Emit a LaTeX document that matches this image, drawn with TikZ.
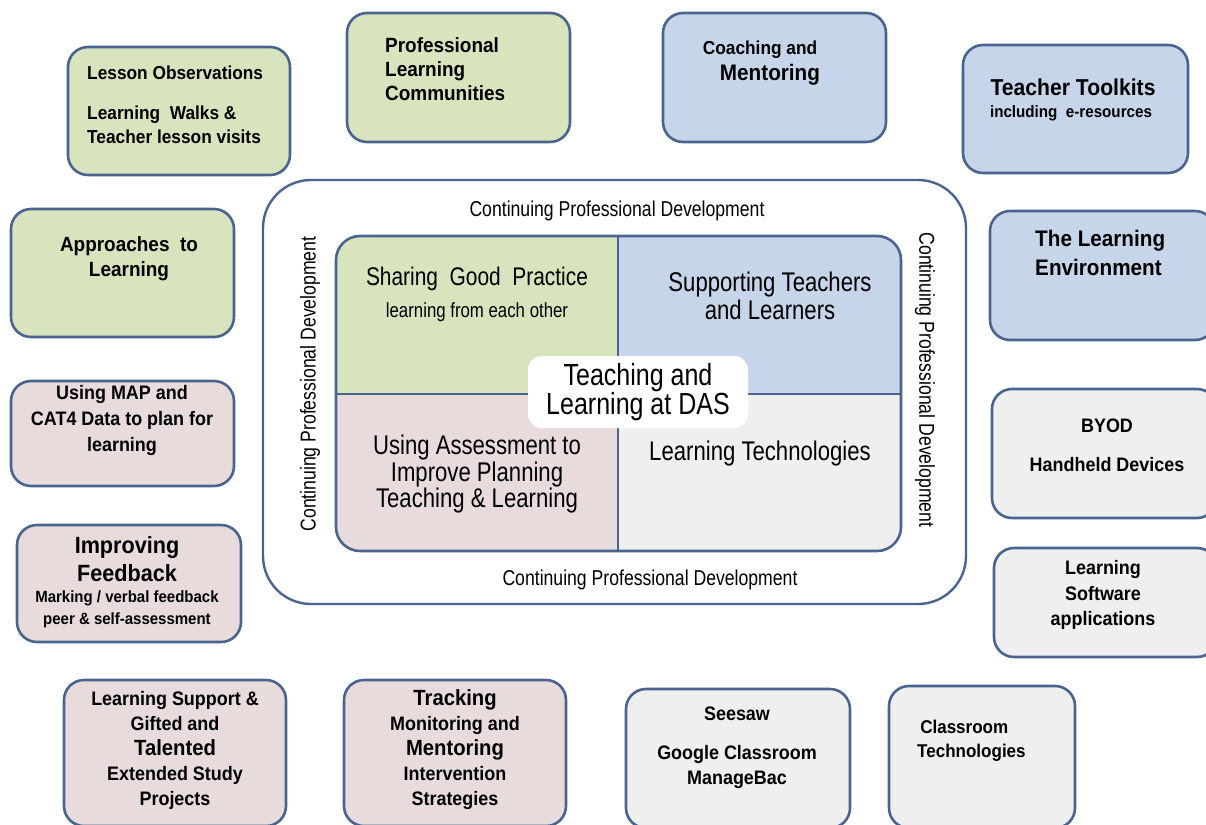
\documentclass[tikz,border=0pt]{standalone}
\usepackage{fontspec}
\setmainfont{Liberation Sans}
\newfontfamily\cardfont[FakeStretch=0.92]{Liberation Sans}
\newfontfamily\midfont[FakeStretch=0.82]{Liberation Sans}
\newcommand{\fsz}[2]{\fontsize{#1}{#2}\selectfont}
\definecolor{bordo}{HTML}{4A6490}
\definecolor{verde}{HTML}{D8E4BD}
\definecolor{azzurro}{HTML}{C7D5EA}
\definecolor{rosa}{HTML}{E8DBDB}
\definecolor{grigio}{HTML}{EFEFEF}

\begin{document}
\begin{tikzpicture}[x=1pt,y=-1pt,
    card/.style={draw=bordo, line width=2.6pt, rounded corners=20pt, inner sep=0pt},
    cardtxt/.style={font=\cardfont\bfseries\fsz{19.5}{25}, align=center, inner sep=0pt},
    midtxt/.style={font=\midfont\fsz{27}{28}, align=center, inner sep=0pt},
    cpd/.style={font=\midfont\fsz{21.5}{24}, inner sep=0pt}]
    \useasboundingbox (0,0) rectangle (1206,824);

     % Riquadri esterni
    \node[card, fill=verde, minimum width=222pt, minimum height=128pt] (lesson) at (179,111) {};
    \node[card, fill=verde, minimum width=223pt, minimum height=129pt] (plc) at (458.5,77.5) {};
    \node[card, fill=azzurro, minimum width=223pt, minimum height=129pt] (coach) at (774.5,77.5) {};
    \node[card, fill=azzurro, minimum width=225pt, minimum height=128pt] (toolkit) at (1075.5,109) {};
    \node[card, fill=verde, minimum width=223pt, minimum height=128pt] (atl) at (122.5,273) {};
    \node[card, fill=azzurro, minimum width=225pt, minimum height=129pt] (environ) at (1102.5,275.5) {};
    \node[card, fill=rosa, minimum width=223pt, minimum height=105pt] (map) at (122.5,433.5) {};
    \node[card, fill=grigio, minimum width=225pt, minimum height=129pt] (byod) at (1104.5,453.5) {};
    \node[card, fill=rosa, minimum width=224pt, minimum height=117pt] (feedback) at (129,583.5) {};
    \node[card, fill=grigio, minimum width=223pt, minimum height=109pt] (software) at (1105.5,602.5) {};
    \node[card, fill=rosa, minimum width=222pt, minimum height=146pt] (support) at (175,753) {};
    \node[card, fill=rosa, minimum width=222pt, minimum height=146pt] (tracking) at (455,753) {};
    \node[card, fill=grigio, minimum width=224pt, minimum height=139pt] (seesaw) at (738,758.5) {};
    \node[card, fill=grigio, minimum width=186pt, minimum height=142pt] (classtech) at (982,757) {};

     % Testi dei riquadri
    \node[cardtxt, align=left, anchor=west, font=\cardfont\bfseries\fsz{18.8}{24}] (lessontxt) at (87,105)
        {Lesson Observations\\[16pt]Learning~ Walks \&\\Teacher lesson visits};
    \node[cardtxt, align=left, anchor=west, font=\cardfont\bfseries\fsz{20.6}{24}] (plctxt) at (385,69)
        {Professional\\Learning\\Communities};
    \node[cardtxt, font=\cardfont\bfseries\fsz{18.8}{25}] (coachtxt) at (760,50) {Coaching and};
    \node[cardtxt, font=\cardfont\bfseries\fsz{22.5}{25}] (mentortxt) at (770,75) {Mentoring};
    \node[cardtxt, font=\cardfont\bfseries\fsz{23}{25}] (toolkittxt) at (1073,87) {Teacher Toolkits};
    \node[cardtxt, font=\cardfont\bfseries\fsz{16.5}{20}] (eresource) at (1071,113) {including~ e-resources};
    \node[cardtxt, font=\cardfont\bfseries\fsz{20.6}{25}] (atltxt) at (129,258.5) {Approaches~ to\\Learning};
    \node[cardtxt, align=left, anchor=west, font=\cardfont\bfseries\fsz{22.5}{29}] (environtxt) at (1035,252.5)
        {The Learning\\Environment};
    \node[cardtxt, font=\cardfont\bfseries\fsz{19.5}{26}] (maptxt) at (122,420)
        {Using MAP and\\CAT4 Data to plan for\\learning};
    \node[cardtxt, font=\cardfont\bfseries\fsz{19.5}{39}] (byodtxt) at (1107,445.5) {BYOD\\Handheld Devices};
    \node[cardtxt, font=\cardfont\bfseries\fsz{23.5}{28}] (improvetxt) at (127,559) {Improving\\Feedback};
    \node[cardtxt, font=\cardfont\bfseries\fsz{16.3}{22}] (markingtxt) at (127,609)
        {Marking / verbal feedback\\peer \& self-assessment};
    \node[cardtxt, font=\cardfont\bfseries\fsz{19.5}{25.5}] (softwaretxt) at (1103,595)
        {Learning\\Software\\applications};
    \node[cardtxt] (supporttxt) at (175,750)
        {Learning Support \&\\Gifted and\\{\fsz{22}{25}Talented}\\Extended Study\\Projects};
    \node[cardtxt] (trackingtxt) at (455,750)
        {{\fsz{22}{25}Tracking}\\Monitoring and\\{\fsz{22}{25}Mentoring}\\Intervention\\Strategies};
    \node[cardtxt] (seesawtxt) at (737,748)
        {Seesaw\\[14pt]Google Classroom\\ManageBac};
    \node[cardtxt, align=left, anchor=west, font=\cardfont\bfseries\fsz{18.5}{24}] (classtechtxt) at (917,741)
        {\,Classroom\\Technologies};

     % Cornice CPD
    \node[draw=bordo, line width=2.4pt, rounded corners=48pt, minimum width=703pt, minimum height=424pt] (cornice) at (614.5,392) {};
    \node[cpd] (cpdtop) at (617,211) {Continuing Professional Development};
    \node[cpd] (cpdbottom) at (650,580) {Continuing Professional Development};
    \node[cpd, rotate=90] (cpdleft) at (310,384) {Continuing Professional Development};
    \node[cpd, rotate=-90] (cpdright) at (925,380) {Continuing Professional Development};

     % Quadranti centrali
    \begin{scope}
        \clip[rounded corners=24pt] (336,236) rectangle (901,551);
        \fill[verde] (336,236) rectangle (618,394);
        \fill[azzurro] (618,236) rectangle (901,394);
        \fill[rosa] (336,394) rectangle (618,551);
        \fill[grigio] (618,394) rectangle (901,551);
    \end{scope}
    \draw[bordo, line width=2.6pt, rounded corners=24pt] (336,236) rectangle (901,551);
    \draw[bordo, line width=2.6pt] (618,236) -- (618,551) (336,394) -- (901,394);

    \node[midtxt, font=\midfont\fsz{25.5}{28}] (sharing) at (477,279) {Sharing~ Good~ Practice};
    \node[midtxt, font=\midfont\fsz{20.5}{22}] (eachother) at (477,312) {learning from each other};
    \node[midtxt] (supporting) at (770,296) {Supporting Teachers\\and Learners};
    \node[midtxt, font=\midfont\fsz{27}{26.5}] (assessment) at (477,474.5)
        {Using Assessment to\\Improve Planning\\Teaching \& Learning};
    \node[midtxt] (technology) at (760,454) {Learning Technologies};

     % Etichetta centrale
    \node[fill=white, rounded corners=14pt, minimum width=220pt, minimum height=72pt, inner sep=0pt,
        font=\midfont\fsz{30.5}{28}, align=center] (hub) at (638,392) {Teaching and\\Learning at DAS};
\end{tikzpicture}
\end{document}
